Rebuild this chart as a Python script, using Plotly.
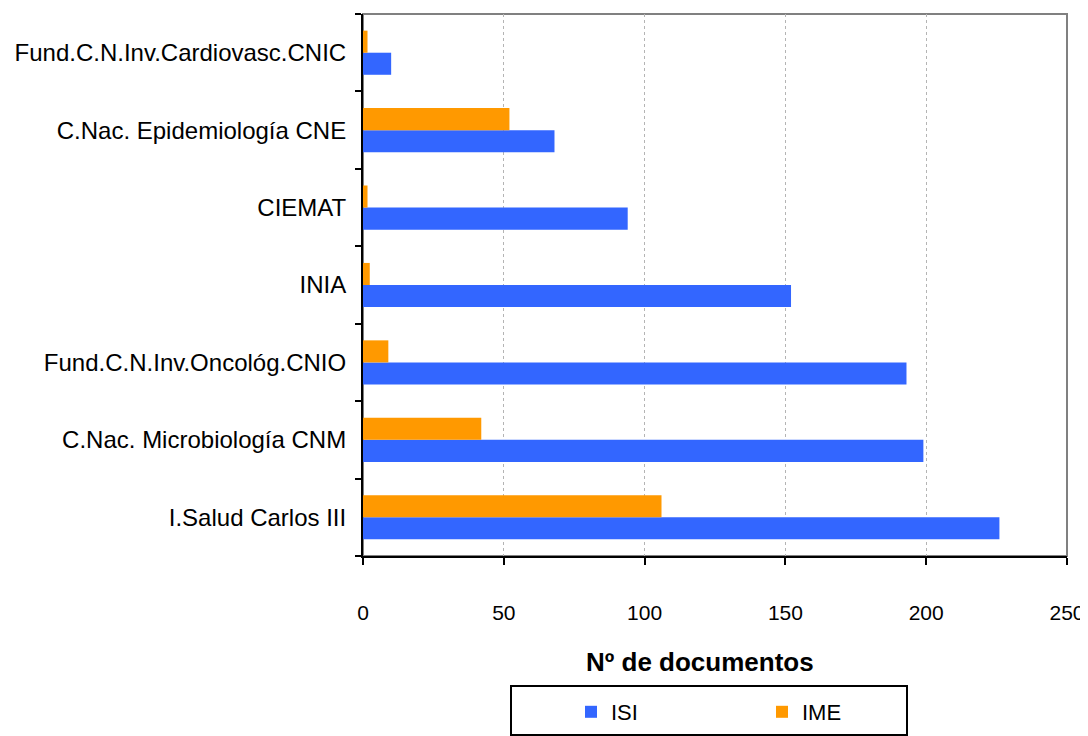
import plotly.graph_objects as go

categories = [
    "I.Salud Carlos III",
    "C.Nac. Microbiología CNM",
    "Fund.C.N.Inv.Oncológ.CNIO",
    "INIA",
    "CIEMAT",
    "C.Nac. Epidemiología CNE",
    "Fund.C.N.Inv.Cardiovasc.CNIC",
]
isi_values = [226, 199, 193, 152, 94, 68, 10]
ime_values = [106, 42, 9, 2.4, 1.6, 52, 1.6]
x_ticks = [0, 50, 100, 150, 200, 250]
x_title = "Nº de documentos"

# page body has an 8px margin; figure is placed at (8, 8) in the window
OFF = 8
W, H = 1088 - OFF, 736 - OFF
L, R, T, B = 363 - OFF, 1067 - OFF, 14 - OFF, 556 - OFF
pw, ph = R - L, B - T

def px_x(p):
    return (p - OFF - L) / pw

def px_y(p):
    return (B - (p - OFF)) / ph

FONT = "Liberation Sans, Arial, sans-serif"
BLUE = "#3366FF"
ORANGE = "#FF9900"

fig = go.Figure()
fig.add_trace(go.Bar(y=categories, x=isi_values, name="ISI", orientation="h",
                     marker=dict(color=BLUE, line=dict(width=0))))
fig.add_trace(go.Bar(y=categories, x=ime_values, name="IME", orientation="h",
                     marker=dict(color=ORANGE, line=dict(width=0))))

fig.update_layout(
    template="none",
    width=W, height=H,
    margin=dict(l=L, r=W - R, t=T, b=H - B, pad=0, autoexpand=False),
    paper_bgcolor="white", plot_bgcolor="white",
    barmode="group", bargap=0.43, bargroupgap=0,
    font=dict(family=FONT, size=21, color="black"),
    showlegend=True,
    legend=dict(orientation="h", x=px_x(571), y=px_y(712), xanchor="left", yanchor="middle",
                bgcolor="rgba(0,0,0,0)", borderwidth=0, entrywidth=146, entrywidthmode="pixels",
                font=dict(size=22, family=FONT)),
    shapes=[
        dict(type="rect", xref="paper", yref="paper", x0=0, x1=1, y0=0, y1=1,
             line=dict(color="#808080", width=2), layer="below"),
        dict(type="rect", xref="paper", yref="paper", x0=px_x(511), x1=px_x(907),
             y0=px_y(686), y1=px_y(735), line=dict(color="black", width=2),
             fillcolor="white", layer="below"),
    ],
    annotations=[
        dict(text="<b>" + x_title + "</b>", xref="paper", yref="paper",
             x=px_x(700), y=px_y(662), xanchor="center", yanchor="middle",
             showarrow=False, font=dict(size=26, family=FONT, color="black")),
    ],
)

fig.update_xaxes(
    range=[0, 250], tickvals=x_ticks, ticktext=[str(v) for v in x_ticks],
    showline=True, linecolor="black", linewidth=2,
    ticks="outside", ticklen=7, tickwidth=2, tickcolor="black",
    showgrid=True, gridcolor="#b4b4b4", gridwidth=1, griddash="dot",
    zeroline=False, tickfont=dict(size=21, family=FONT),
    ticklabelstandoff=30, automargin=False, fixedrange=True,
)
fig.update_yaxes(
    type="category", categoryorder="array", categoryarray=categories,
    showline=True, linecolor="black", linewidth=2,
    ticks="outside", ticklen=6, tickwidth=2, tickcolor="black", tickson="boundaries",
    showgrid=False, zeroline=False, tickfont=dict(size=24, family=FONT),
    ticklabelstandoff=10, automargin=False, fixedrange=True,
)

fig.write_html("out.html")
